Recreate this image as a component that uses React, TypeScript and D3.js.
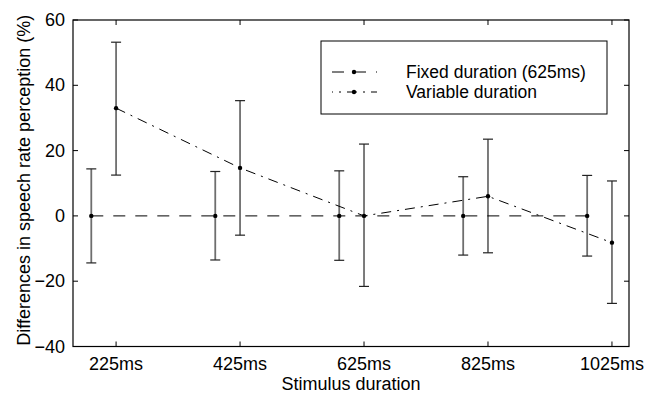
import * as d3 from "d3";
import { useEffect, useRef } from "react";

// stimulus durations (ms) and their tick labels
const DURATIONS = [225, 425, 625, 825, 1025];
const TICK_LABELS = ["225ms", "425ms", "625ms", "825ms", "1025ms"];
const Y_TICKS = [-40, -20, 0, 20, 40, 60];

// fixed-duration condition is drawn slightly left of each tick
const FIXED_X = [185, 385, 585, 785, 985];
const FIXED_MEAN = [0, 0, 0, 0, 0];
const FIXED_LOW = [-14.4, -13.5, -13.6, -12.0, -12.3];
const FIXED_HIGH = [14.4, 13.6, 13.8, 12.0, 12.4];

const VAR_X = [225, 425, 625, 825, 1025];
const VAR_MEAN = [33.0, 14.7, 0, 6.0, -8.2];
const VAR_LOW = [12.5, -5.9, -21.6, -11.3, -26.8];
const VAR_HIGH = [53.2, 35.3, 22.0, 23.5, 10.7];

const W = 645;
const H = 394;
const FONT = "'Liberation Sans', Arial, Helvetica, sans-serif";

export default function App() {
  const ref = useRef<SVGSVGElement>(null);

  useEffect(() => {
    if (!ref.current) return;
    const svg = d3.select(ref.current);
    svg.selectAll("*").remove();
    const m = { top: 20, right: 16, bottom: 47.5, left: 73 };
    const w = W - m.left - m.right;
    const h = H - m.top - m.bottom;
    const g = svg.append("g").attr("transform", `translate(${m.left},${m.top})`);

    const x = d3.scaleLinear().domain([155.5, 1052.5]).range([0, w]);
    const y = d3.scaleLinear().domain([-40, 60]).range([h, 0]);

    // inward ticks on all four sides
    const tl = 5;
    DURATIONS.forEach((d) => {
      g.append("line").attr("x1", x(d)).attr("x2", x(d)).attr("y1", h).attr("y2", h - tl)
        .attr("stroke", "#000");
      g.append("line").attr("x1", x(d)).attr("x2", x(d)).attr("y1", 0).attr("y2", tl)
        .attr("stroke", "#000");
    });
    Y_TICKS.forEach((v) => {
      g.append("line").attr("x1", 0).attr("x2", tl).attr("y1", y(v)).attr("y2", y(v))
        .attr("stroke", "#000");
      g.append("line").attr("x1", w).attr("x2", w - tl).attr("y1", y(v)).attr("y2", y(v))
        .attr("stroke", "#000");
    });

    g.selectAll(".xl").data(DURATIONS).enter().append("text")
      .attr("x", (d) => x(d)).attr("y", h + 23.5)
      .attr("text-anchor", "middle")
      .attr("font-family", FONT).attr("font-size", 18)
      .text((_, i) => TICK_LABELS[i]);
    g.selectAll(".yl").data(Y_TICKS).enter().append("text")
      .attr("x", -8).attr("y", (d) => y(d) + 6)
      .attr("text-anchor", "end")
      .attr("font-family", FONT).attr("font-size", 18)
      .text((d) => (d < 0 ? `\u2212${Math.abs(d)}` : `${d}`));

    // error bars
    const bars = (xs: number[], lo: number[], hi: number[]) => {
      xs.forEach((xv, i) => {
        g.append("line").attr("x1", x(xv)).attr("x2", x(xv))
          .attr("y1", y(lo[i])).attr("y2", y(hi[i]))
          .attr("stroke", "#6e6e6e").attr("stroke-width", 1.8);
        [lo[i], hi[i]].forEach((v) => {
          g.append("line").attr("x1", x(xv) - 5).attr("x2", x(xv) + 5)
            .attr("y1", y(v)).attr("y2", y(v))
            .attr("stroke", "#222").attr("stroke-width", 1.2);
        });
      });
    };
    bars(FIXED_X, FIXED_LOW, FIXED_HIGH);
    bars(VAR_X, VAR_LOW, VAR_HIGH);

    const line = d3.line<[number, number]>().x((d) => x(d[0])).y((d) => y(d[1]));
    g.append("path")
      .datum(FIXED_X.map((d, i) => [d, FIXED_MEAN[i]] as [number, number]))
      .attr("fill", "none").attr("stroke", "#000").attr("stroke-width", 1)
      .attr("stroke-dasharray", "12,10").attr("d", line);
    g.append("path")
      .datum(VAR_X.map((d, i) => [d, VAR_MEAN[i]] as [number, number]))
      .attr("fill", "none").attr("stroke", "#000").attr("stroke-width", 1)
      .attr("stroke-dasharray", "10,6,2,6").attr("d", line);

    const dots = (xs: number[], ys: number[]) => {
      g.selectAll(null).data(xs).enter().append("circle")
        .attr("cx", (d) => x(d)).attr("cy", (_, i) => y(ys[i]))
        .attr("r", 2.2).attr("fill", "#000");
    };
    dots(FIXED_X, FIXED_MEAN);
    dots(VAR_X, VAR_MEAN);

    // frame
    g.append("rect").attr("width", w).attr("height", h)
      .attr("fill", "none").attr("stroke", "#000").attr("stroke-width", 1.2);

    // legend
    const lg = svg.append("g").attr("transform", "translate(321,41)");
    lg.append("rect").attr("width", 286).attr("height", 73)
      .attr("fill", "#fff").attr("stroke", "#000").attr("stroke-width", 1);
    const items: Array<[string, string, number]> = [
      ["Fixed duration (625ms)", "12,10", 31],
      ["Variable duration", "10,6,2,6", 51],
    ];
    items.forEach(([label, dash, ly], i) => {
      lg.append("line").attr("x1", 11).attr("x2", 56).attr("y1", ly).attr("y2", ly)
        .attr("stroke", "#000").attr("stroke-dasharray", dash)
        .attr("stroke-dashoffset", i === 0 ? 0 : 9);
      lg.append("circle").attr("cx", 33).attr("cy", ly).attr("r", 2.2).attr("fill", "#000");
      lg.append("text").attr("x", 85).attr("y", ly + 6)
        .attr("font-family", FONT).attr("font-size", 17.5).text(label);
    });

    // axis titles
    svg.append("text").attr("x", m.left + w / 2).attr("y", 390)
      .attr("text-anchor", "middle").attr("font-family", FONT).attr("font-size", 18)
      .text("Stimulus duration");
    svg.append("text")
      .attr("transform", `translate(30,${m.top + h / 2 - 3}) rotate(-90)`)
      .attr("text-anchor", "middle").attr("font-family", FONT).attr("font-size", 18)
      .text("Differences in speech rate perception (%)");
  }, []);

  return (
    <div style={{ position: "fixed", left: 0, top: 0 }}>
      <svg ref={ref} width={W} height={H} style={{ display: "block", background: "#fff" }} />
    </div>
  );
}
